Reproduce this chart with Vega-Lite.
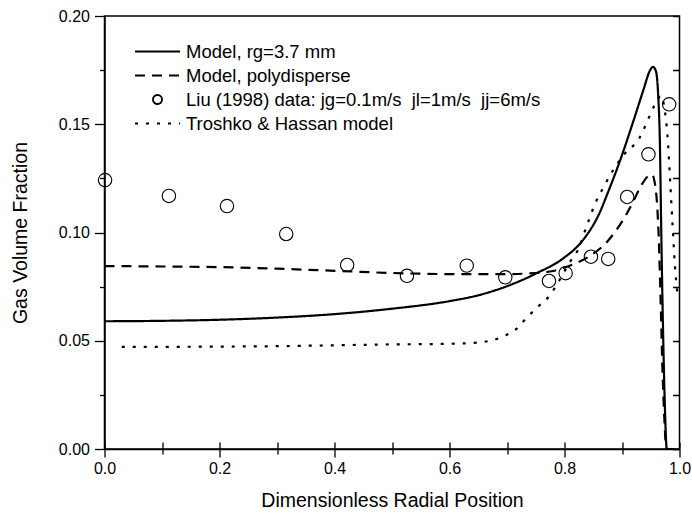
{
  "$schema": "https://vega.github.io/schema/vega-lite/v6.json",
  "width": 575,
  "height": 433,
  "autosize": "none",
  "padding": {"left": 104.5, "top": 16, "right": 12.5, "bottom": 67},
  "config": {
    "font": "Liberation Sans",
    "view": {"stroke": "black", "strokeWidth": 1.5},
    "axis": {"labelFont": "Liberation Sans", "titleFont": "Liberation Sans", "labelColor": "black", "titleColor": "black", "tickColor": "black", "domainColor": "black", "labelFontSize": 16, "titleFontSize": 19.5, "titleFontWeight": "normal", "tickWidth": 1.3, "domainWidth": 1.5, "labelFlush": false, "labelOverlap": false, "gridColor": "black", "gridOpacity": 1, "gridWidth": 1.3},
    "legend": {"labelLimit": 0}
  },
  "datasets": {
    "lines": [
      {"series": "Model, rg=3.7 mm", "x": 0, "y": 0.059},
      {"series": "Model, rg=3.7 mm", "x": 0.1, "y": 0.0592},
      {"series": "Model, rg=3.7 mm", "x": 0.2, "y": 0.0597},
      {"series": "Model, rg=3.7 mm", "x": 0.3, "y": 0.0607},
      {"series": "Model, rg=3.7 mm", "x": 0.4, "y": 0.0623},
      {"series": "Model, rg=3.7 mm", "x": 0.5, "y": 0.0648},
      {"series": "Model, rg=3.7 mm", "x": 0.6, "y": 0.0683},
      {"series": "Model, rg=3.7 mm", "x": 0.65, "y": 0.071},
      {"series": "Model, rg=3.7 mm", "x": 0.7, "y": 0.0752},
      {"series": "Model, rg=3.7 mm", "x": 0.75, "y": 0.081},
      {"series": "Model, rg=3.7 mm", "x": 0.8, "y": 0.0885},
      {"series": "Model, rg=3.7 mm", "x": 0.83, "y": 0.0958},
      {"series": "Model, rg=3.7 mm", "x": 0.86, "y": 0.1085},
      {"series": "Model, rg=3.7 mm", "x": 0.877, "y": 0.1195},
      {"series": "Model, rg=3.7 mm", "x": 0.897, "y": 0.1335},
      {"series": "Model, rg=3.7 mm", "x": 0.918, "y": 0.15},
      {"series": "Model, rg=3.7 mm", "x": 0.938, "y": 0.1665},
      {"series": "Model, rg=3.7 mm", "x": 0.948, "y": 0.1745},
      {"series": "Model, rg=3.7 mm", "x": 0.954, "y": 0.1765},
      {"series": "Model, rg=3.7 mm", "x": 0.959, "y": 0.1745},
      {"series": "Model, rg=3.7 mm", "x": 0.963, "y": 0.163},
      {"series": "Model, rg=3.7 mm", "x": 0.966, "y": 0.14},
      {"series": "Model, rg=3.7 mm", "x": 0.968, "y": 0.105},
      {"series": "Model, rg=3.7 mm", "x": 0.971, "y": 0.06},
      {"series": "Model, rg=3.7 mm", "x": 0.974, "y": 0.025},
      {"series": "Model, rg=3.7 mm", "x": 0.978, "y": 0.0},
      {"series": "Model, rg=3.7 mm", "x": 0.99, "y": 0.0},
      {"series": "Model, polydisperse", "x": 0, "y": 0.0845},
      {"series": "Model, polydisperse", "x": 0.1, "y": 0.0843},
      {"series": "Model, polydisperse", "x": 0.2, "y": 0.084},
      {"series": "Model, polydisperse", "x": 0.3, "y": 0.0833},
      {"series": "Model, polydisperse", "x": 0.4, "y": 0.0823},
      {"series": "Model, polydisperse", "x": 0.5, "y": 0.0813},
      {"series": "Model, polydisperse", "x": 0.6, "y": 0.0808},
      {"series": "Model, polydisperse", "x": 0.7, "y": 0.0808},
      {"series": "Model, polydisperse", "x": 0.75, "y": 0.0813},
      {"series": "Model, polydisperse", "x": 0.78, "y": 0.0822},
      {"series": "Model, polydisperse", "x": 0.81, "y": 0.0848},
      {"series": "Model, polydisperse", "x": 0.84, "y": 0.0885},
      {"series": "Model, polydisperse", "x": 0.875, "y": 0.096},
      {"series": "Model, polydisperse", "x": 0.9, "y": 0.105},
      {"series": "Model, polydisperse", "x": 0.918, "y": 0.1135},
      {"series": "Model, polydisperse", "x": 0.934, "y": 0.122},
      {"series": "Model, polydisperse", "x": 0.946, "y": 0.1262},
      {"series": "Model, polydisperse", "x": 0.952, "y": 0.1268},
      {"series": "Model, polydisperse", "x": 0.957, "y": 0.123},
      {"series": "Model, polydisperse", "x": 0.961, "y": 0.113},
      {"series": "Model, polydisperse", "x": 0.964, "y": 0.097},
      {"series": "Model, polydisperse", "x": 0.967, "y": 0.07},
      {"series": "Model, polydisperse", "x": 0.97, "y": 0.04},
      {"series": "Model, polydisperse", "x": 0.974, "y": 0.012},
      {"series": "Model, polydisperse", "x": 0.977, "y": 0.0},
      {"series": "Model, polydisperse", "x": 0.99, "y": 0.0},
      {"series": "Troshko & Hassan model", "x": 0.03, "y": 0.0472},
      {"series": "Troshko & Hassan model", "x": 0.1, "y": 0.0472},
      {"series": "Troshko & Hassan model", "x": 0.2, "y": 0.0473},
      {"series": "Troshko & Hassan model", "x": 0.3, "y": 0.0475},
      {"series": "Troshko & Hassan model", "x": 0.4, "y": 0.0479},
      {"series": "Troshko & Hassan model", "x": 0.5, "y": 0.0483},
      {"series": "Troshko & Hassan model", "x": 0.6, "y": 0.0486},
      {"series": "Troshko & Hassan model", "x": 0.65, "y": 0.0492},
      {"series": "Troshko & Hassan model", "x": 0.675, "y": 0.0503},
      {"series": "Troshko & Hassan model", "x": 0.696, "y": 0.0523},
      {"series": "Troshko & Hassan model", "x": 0.716, "y": 0.0554},
      {"series": "Troshko & Hassan model", "x": 0.733, "y": 0.0603},
      {"series": "Troshko & Hassan model", "x": 0.754, "y": 0.0657},
      {"series": "Troshko & Hassan model", "x": 0.774, "y": 0.0708},
      {"series": "Troshko & Hassan model", "x": 0.788, "y": 0.0765},
      {"series": "Troshko & Hassan model", "x": 0.809, "y": 0.0862},
      {"series": "Troshko & Hassan model", "x": 0.823, "y": 0.0917},
      {"series": "Troshko & Hassan model", "x": 0.84, "y": 0.104},
      {"series": "Troshko & Hassan model", "x": 0.852, "y": 0.1125},
      {"series": "Troshko & Hassan model", "x": 0.868, "y": 0.121},
      {"series": "Troshko & Hassan model", "x": 0.884, "y": 0.1285},
      {"series": "Troshko & Hassan model", "x": 0.905, "y": 0.1365},
      {"series": "Troshko & Hassan model", "x": 0.93, "y": 0.1435},
      {"series": "Troshko & Hassan model", "x": 0.945, "y": 0.152},
      {"series": "Troshko & Hassan model", "x": 0.955, "y": 0.158},
      {"series": "Troshko & Hassan model", "x": 0.962, "y": 0.1615},
      {"series": "Troshko & Hassan model", "x": 0.968, "y": 0.1632},
      {"series": "Troshko & Hassan model", "x": 0.974, "y": 0.157},
      {"series": "Troshko & Hassan model", "x": 0.979, "y": 0.145},
      {"series": "Troshko & Hassan model", "x": 0.984, "y": 0.1225},
      {"series": "Troshko & Hassan model", "x": 0.988, "y": 0.103},
      {"series": "Troshko & Hassan model", "x": 0.992, "y": 0.085},
      {"series": "Troshko & Hassan model", "x": 0.997, "y": 0.07}
    ],
    "points": [
      {"series": "Liu (1998) data: jg=0.1m/s\u00a0 jl=1m/s\u00a0 jj=6m/s", "x": 0.001, "y": 0.1242},
      {"series": "Liu (1998) data: jg=0.1m/s\u00a0 jl=1m/s\u00a0 jj=6m/s", "x": 0.112, "y": 0.1169},
      {"series": "Liu (1998) data: jg=0.1m/s\u00a0 jl=1m/s\u00a0 jj=6m/s", "x": 0.213, "y": 0.1122},
      {"series": "Liu (1998) data: jg=0.1m/s\u00a0 jl=1m/s\u00a0 jj=6m/s", "x": 0.316, "y": 0.0993},
      {"series": "Liu (1998) data: jg=0.1m/s\u00a0 jl=1m/s\u00a0 jj=6m/s", "x": 0.422, "y": 0.085},
      {"series": "Liu (1998) data: jg=0.1m/s\u00a0 jl=1m/s\u00a0 jj=6m/s", "x": 0.526, "y": 0.08},
      {"series": "Liu (1998) data: jg=0.1m/s\u00a0 jl=1m/s\u00a0 jj=6m/s", "x": 0.63, "y": 0.0847},
      {"series": "Liu (1998) data: jg=0.1m/s\u00a0 jl=1m/s\u00a0 jj=6m/s", "x": 0.697, "y": 0.0793},
      {"series": "Liu (1998) data: jg=0.1m/s\u00a0 jl=1m/s\u00a0 jj=6m/s", "x": 0.773, "y": 0.0776},
      {"series": "Liu (1998) data: jg=0.1m/s\u00a0 jl=1m/s\u00a0 jj=6m/s", "x": 0.802, "y": 0.0812},
      {"series": "Liu (1998) data: jg=0.1m/s\u00a0 jl=1m/s\u00a0 jj=6m/s", "x": 0.846, "y": 0.0888},
      {"series": "Liu (1998) data: jg=0.1m/s\u00a0 jl=1m/s\u00a0 jj=6m/s", "x": 0.876, "y": 0.0878},
      {"series": "Liu (1998) data: jg=0.1m/s\u00a0 jl=1m/s\u00a0 jj=6m/s", "x": 0.909, "y": 0.1164},
      {"series": "Liu (1998) data: jg=0.1m/s\u00a0 jl=1m/s\u00a0 jj=6m/s", "x": 0.946, "y": 0.1361},
      {"series": "Liu (1998) data: jg=0.1m/s\u00a0 jl=1m/s\u00a0 jj=6m/s", "x": 0.982, "y": 0.1592}
    ]
  },
  "layer": [
    {
      "data": {"name": "lines"},
      "mark": {"type": "line", "color": "black", "strokeWidth": 2.2, "strokeCap": "butt", "interpolate": "monotone"},
      "encoding": {
        "x": {"field": "x", "type": "quantitative", "scale": {"domain": [0, 1], "nice": false},
          "axis": {"orient": "bottom", "title": "Dimensionless Radial Position", "titlePadding": 15, "values": [0, 0.1, 0.2, 0.3, 0.4, 0.5, 0.6, 0.7, 0.8, 0.9, 1.0],
            "labelExpr": "round(datum.value*10)%2===0 ? format(datum.value,'.1f') : ''",
            "labelPadding": 3,
            "tickSize": {"condition": {"test": "round(datum.value*10)%2===0", "value": 8}, "value": 5},
            "grid": true,
            "gridDash": [0, 426, 7, 100]}},
        "y": {"field": "y", "type": "quantitative", "scale": {"domain": [0, 0.2], "nice": false},
          "axis": {"orient": "left", "title": "Gas Volume Fraction", "titlePadding": 28, "values": [0, 0.025, 0.05, 0.075, 0.1, 0.125, 0.15, 0.175, 0.2],
            "labelExpr": "round(datum.value*1000)%50===0 ? format(datum.value,'.2f') : ''",
            "labelPadding": 5,
            "tickSize": {"condition": {"test": "round(datum.value*1000)%50===0", "value": 10}, "value": 5},
            "grid": true,
            "gridDash": [0, 568, 7, 100]}},
        "strokeDash": {"field": "series", "type": "nominal",
          "scale": {"domain": ["Model, rg=3.7 mm", "Model, polydisperse", "Liu (1998) data: jg=0.1m/s\u00a0 jl=1m/s\u00a0 jj=6m/s", "Troshko & Hassan model"],
            "range": [[1, 0], [10, 7], [1, 0], [3, 8]]},
          "legend": {"title": null, "orient": "none", "legendX": 40.5, "legendY": 23, "padding": 0, "labelFontSize": 18.5, "labelFont": "Liberation Sans", "labelColor": "black", "labelOffset": 16, "labelLimit": 0, "rowPadding": 2, "symbolSize": 506.25, "symbolStrokeColor": "black", "symbolFillColor": "transparent", "symbolStrokeWidth": 1.8}}
      }
    },
    {
      "data": {"name": "points"},
      "mark": {"type": "point", "filled": false, "color": "black", "strokeWidth": 1.1, "size": 1122, "opacity": 1},
      "encoding": {
        "x": {"field": "x", "type": "quantitative"},
        "y": {"field": "y", "type": "quantitative"},
        "shape": {"field": "series", "type": "nominal",
          "scale": {"domain": ["Model, rg=3.7 mm", "Model, polydisperse", "Liu (1998) data: jg=0.1m/s\u00a0 jl=1m/s\u00a0 jj=6m/s", "Troshko & Hassan model"],
            "range": ["M-2,0L2,0", "M-2,0L2,0", "M-0.4,0A0.4,0.4,0,1,1,0.4,0A0.4,0.4,0,1,1,-0.4,0Z", "M-2,0L2,0"]},
          "legend": {"title": null, "orient": "none", "legendX": 40.5, "legendY": 23, "padding": 0, "labelFontSize": 18.5, "labelFont": "Liberation Sans", "labelColor": "black", "labelOffset": 16, "labelLimit": 0, "rowPadding": 2, "symbolSize": 506.25, "symbolStrokeColor": "black", "symbolFillColor": "transparent", "symbolStrokeWidth": 1.8}}
      }
    }
  ]
}
